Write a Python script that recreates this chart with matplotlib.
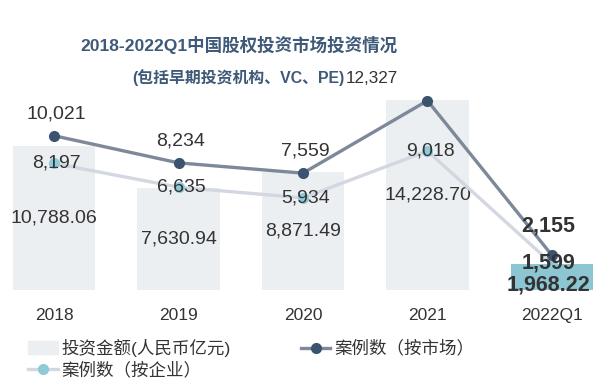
import matplotlib.pyplot as plt
from matplotlib.patches import Patch
from matplotlib.lines import Line2D

plt.rcParams['font.family'] = ['Liberation Sans', 'Noto Sans CJK SC', 'DejaVu Sans']

years = ["2018", "2019", "2020", "2021", "2022Q1"]
amount = [10788.06, 7630.94, 8871.49, 14228.70, 1968.22]
cases_market = [10021, 8234, 7559, 12327, 2155]
cases_company = [8197, 6635, 5934, 9018, 1599]

title = "2018-2022Q1中国股权投资市场投资情况"
subtitle = "(包括早期投资机构、VC、PE)"

bar_color = '#ECEFF2'
bar_last = '#8CC6D3'
mkt_line = '#7D8898'
mkt_dot = '#3C5370'
com_line = '#D2D7E1'
com_dot = '#8FCAD6'
txt = '#333333'

fig = plt.figure(figsize=(5.98, 3.88), dpi=100)
ax = fig.add_axes([0, 0.2526, 1, 0.5155])
ax2 = ax.twinx()

x = list(range(len(years)))
colors = [bar_color] * 4 + [bar_last]
ax.bar(x, amount, width=0.66, color=colors, zorder=1)
ax.set_xlim(-0.434, 4.37)
ax.set_ylim(0, 14980)
ax2.set_ylim(-129, 13030)

ax2.plot(x, cases_company, color=com_line, lw=2.4, zorder=2)
ax2.plot(x, cases_company, 'o', color=com_dot, ms=7, zorder=3)
ax2.plot(x, cases_market, color=mkt_line, lw=2.4, zorder=4)
ax2.plot(x, cases_market, 'o', color=mkt_dot, ms=7, zorder=5)

for a in (ax, ax2):
    for s in a.spines.values():
        s.set_visible(False)
    a.set_yticks([])
ax.set_xticks(x)
ax.set_xticklabels(years, fontsize=12.5, color=txt)
ax.tick_params(axis='x', length=0, pad=13)

fs = 14
bfs = 15.5
# bar labels
for i in range(4):
    ax.text(x[i], amount[i] / 2, f"{amount[i]:,.2f}", ha='center', va='center',
            fontsize=fs, color=txt, zorder=6)
ax.text(x[4] - 0.03, 375, f"{amount[4]:,.2f}", ha='center', va='center', fontsize=bfs,
        fontweight='bold', color=txt, zorder=6)

# market labels
for i in range(3):
    ax2.text(x[i] + 0.02, cases_market[i] + 1450, f"{cases_market[i]:,}",
             ha='center', va='center', fontsize=fs, color=txt, zorder=6)
ax2.text(x[3] - 0.45, cases_market[3] + 1450, f"{cases_market[3]:,}",
         ha='center', va='center', fontsize=12.3, color=txt, zorder=6)
ax2.text(x[4] - 0.03, 4065, f"{cases_market[4]:,}", ha='center', va='center',
         fontsize=bfs, fontweight='bold', color=txt, zorder=6)

# company labels
for i in range(4):
    ax2.text(x[i] + 0.02, cases_company[i], f"{cases_company[i]:,}", ha='center', va='center',
             fontsize=fs, color=txt, zorder=6)
ax2.text(x[4] - 0.03, 1677, f"{cases_company[4]:,}", ha='center', va='center',
         fontsize=bfs, fontweight='bold', color=txt, zorder=6)

fig.text(0.40, 0.883, title, ha='center', va='center', fontsize=12.6,
         fontweight='bold', color='#3F5A78')
fig.text(0.221, 0.80, subtitle, ha='left', va='center', fontsize=11.4,
         fontweight='bold', color='#3F5A78')

handles = [
    Patch(color=bar_color),
    Line2D([], [], color=com_line, lw=2.4, marker='o', mfc=com_dot, mec=com_dot, ms=7),
    Line2D([], [], color=mkt_line, lw=2.4, marker='o', mfc=mkt_dot, mec=mkt_dot, ms=7),
]
labels = ["投资金额(人民币亿元)", "案例数（按企业）", "案例数（按市场）"]
fig.legend(handles, labels, loc='upper left', bbox_to_anchor=(0.047, 0.127), ncol=2,
           frameon=False, fontsize=12.6, labelcolor=txt, handlelength=1.7,
           handletextpad=0.2, columnspacing=4.0, labelspacing=0.25, borderpad=0,
           borderaxespad=0)

fig.savefig('out.png', dpi=100)
